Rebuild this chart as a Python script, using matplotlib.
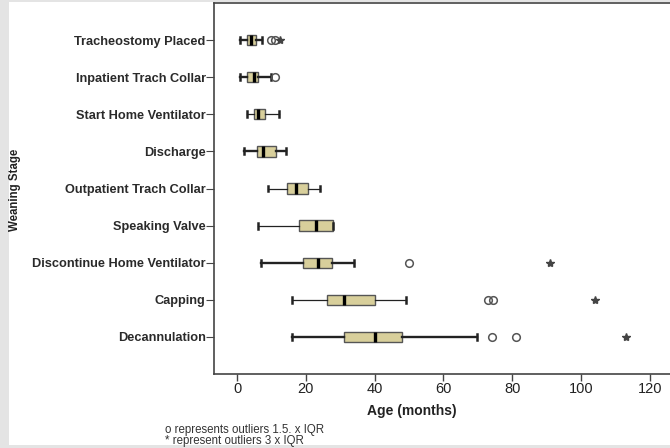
"""Box plots of age at each tracheostomy weaning stage."""
import matplotlib
matplotlib.use('Agg')
import matplotlib.pyplot as plt
from matplotlib.patches import Rectangle

# values (months)
stages = ['Tracheostomy Placed', 'Inpatient Trach Collar',
          'Start Home Ventilator', 'Discharge', 'Outpatient Trach Collar',
          'Speaking Valve', 'Discontinue Home Ventilator', 'Capping',
          'Decannulation']
whisk_lo = [0.9, 1.0, 2.9, 1.9, 9.1, 6.0, 7.1, 16.1, 16.1]
q1 = [2.8, 2.8, 4.9, 5.9, 14.5, 18.1, 19.1, 26.1, 31.0]
median = [4.0, 5.0, 6.0, 7.5, 17.1, 23.0, 23.5, 31.0, 40.0]
q3 = [5.4, 6.2, 8.2, 11.2, 20.6, 27.8, 27.7, 40.1, 48.1]
whisk_hi = [7.2, 10.0, 12.1, 14.2, 24.1, 28.0, 34.1, 49.0, 69.9]
mild_out = [[10.0, 11.0], [11.0], [], [], [], [], [50.0], [73.0, 74.3],
            [74.0, 81.0]]
extreme_out = [[12.5], [], [], [], [], [], [90.9], [104.0], [113.0]]
thick_rows = [0, 1, 3, 6, 8]
xticks = [0, 20, 40, 60, 80, 100, 120]

box_color = '#d8cf9b'
edge_color = '#555555'

fig = plt.figure(figsize=(6.7, 4.48), dpi=100)
fig.patch.set_facecolor('#e4e4e4')
fig.patches.append(Rectangle((9 / 670, 3 / 448), 1, 1 - 5 / 448,
                             transform=fig.transFigure, facecolor='white',
                             edgecolor='none', zorder=-1))

ax = fig.add_axes([214 / 670, 1 - 374 / 448, 1 - 214 / 670,
                   (374 - 3) / 448])
ax.set_facecolor('none')

stats = []
for i, name in enumerate(stages):
    stats.append({'label': name, 'whislo': whisk_lo[i], 'q1': q1[i],
                  'med': median[i], 'q3': q3[i], 'whishi': whisk_hi[i],
                  'fliers': []})

positions = list(range(1, len(stages) + 1))
parts = ax.bxp(stats, positions=positions, orientation='horizontal',
               widths=0.28, capwidths=0.16, patch_artist=True,
               showfliers=False,
               boxprops=dict(facecolor=box_color, edgecolor=edge_color,
                             linewidth=1.0),
               medianprops=dict(color='black', linewidth=2.4),
               whiskerprops=dict(color='#222222', linewidth=0.9),
               capprops=dict(color='#222222', linewidth=1.8))

# some rows are drawn with heavier whiskers in the original
for i in thick_rows:
    for line in parts['whiskers'][2 * i:2 * i + 2]:
        line.set_linewidth(1.7)

for i, pos in enumerate(positions):
    if mild_out[i]:
        ax.plot(mild_out[i], [pos] * len(mild_out[i]), 'o',
                markerfacecolor='none', markeredgecolor='#555555',
                markersize=5.5, markeredgewidth=1.1)
    if extreme_out[i]:
        ax.plot(extreme_out[i], [pos] * len(extreme_out[i]), '*',
                color='#444444', markersize=6)

ax.set_xlim(-6.7, 125.9)
ax.set_ylim(len(stages) + 1, 0)
ax.set_yticks(positions)
ax.set_yticklabels(stages, fontsize=9.2, fontweight='bold',
                   family='Liberation Sans', color='#2a2a2a')
ax.set_xticks(xticks)
ax.set_xticklabels([str(t) for t in xticks], fontsize=10.5,
                   family='Liberation Sans', color='#222222')
ax.tick_params(axis='y', length=6, width=0.8, color='#444444', pad=0)
ax.tick_params(axis='x', length=5, width=1.0, color='#444444', pad=1)

for side in ['left', 'bottom', 'top']:
    ax.spines[side].set_color('#444444')
    ax.spines[side].set_linewidth(1.2)
ax.spines['right'].set_visible(False)

ax.set_xlabel('Age (months)', fontsize=10, fontweight='bold',
              family='Liberation Sans', color='#222222')
ax.xaxis.set_label_coords((412 - 214) / (670 - 214), -0.082)

fig.text(15 / 670, 1 - 190 / 448, 'Weaning Stage', rotation=90,
         ha='center', va='center', fontsize=8.3, fontweight='bold',
         family='Liberation Sans', color='#222222')

fig.text(165 / 670, 1 - 430 / 448, 'o represents outliers 1.5. x IQR',
         fontsize=8.3, family='Liberation Sans', color='#333333',
         va='center')
fig.text(165 / 670, 1 - 441 / 448, '* represent outliers 3 x IQR',
         fontsize=8.3, family='Liberation Sans', color='#333333',
         va='center')

fig.savefig('out.png', dpi=100, facecolor=fig.get_facecolor())
